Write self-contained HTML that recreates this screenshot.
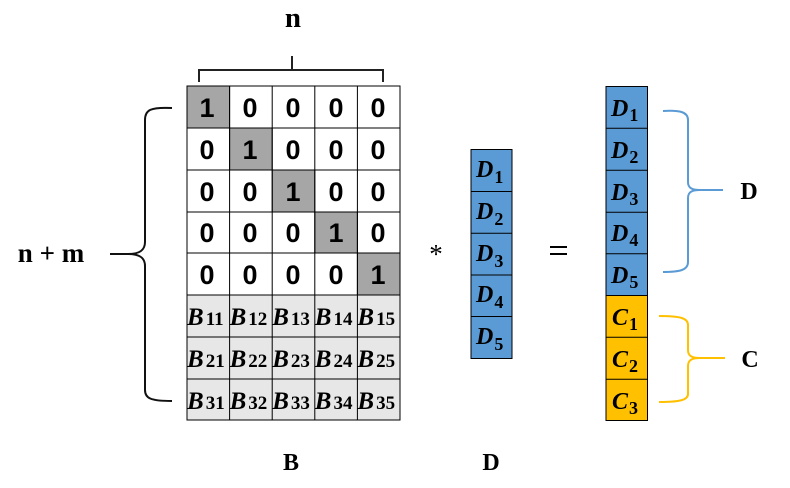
<!DOCTYPE html>
<html><head><meta charset="utf-8"><style>
html,body{margin:0;padding:0;background:#fff;}
svg{display:block;}
.s{font-family:"Liberation Serif",serif;font-weight:bold;}
.n{font-family:"Liberation Sans",sans-serif;font-weight:bold;font-size:27px;}
</style></head><body>
<svg width="790" height="488" viewBox="0 0 790 488" xmlns="http://www.w3.org/2000/svg">
<!-- top bracket -->
<g stroke="#222" stroke-width="2" fill="none">
<path d="M199,82 L199,70 L383,70 L383,82"/>
<path d="M292,56 L292,70"/>
</g>
<text x="293" y="27" class="s" font-size="29" text-anchor="middle">n</text>

<!-- left brace -->
<path d="M172,108 C150,107 145,110 145,120 L145,242 C145,250 140,254 128,254 L110,254 M128,254 C140,254 145,258 145,266 L145,390 C145,398 150,401 172,401" stroke="#111" stroke-width="2" fill="none"/>
<text x="51" y="262" class="s" font-size="27" text-anchor="middle">n + m</text>

<!-- matrix B cells -->
<g stroke="#000" stroke-width="1">
<rect x="187" y="86" width="213" height="167" fill="#fff"/>
<rect x="187" y="253" width="213" height="167" fill="#fff"/>
<rect x="187" y="295" width="213" height="125" fill="#e7e7e7"/>
<rect x="187" y="86" width="42.6" height="42" fill="#a6a6a6"/>
<rect x="229.6" y="128" width="42.6" height="42" fill="#a6a6a6"/>
<rect x="272.2" y="170" width="42.6" height="42" fill="#a6a6a6"/>
<rect x="314.8" y="212" width="42.6" height="41" fill="#a6a6a6"/>
<rect x="357.4" y="253" width="42.6" height="42" fill="#a6a6a6"/>
<path d="M229.6,86 V420 M272.2,86 V420 M314.8,86 V420 M357.4,86 V420 M187,128 H400 M187,170 H400 M187,212 H400 M187,253 H400 M187,295 H400 M187,337 H400 M187,379 H400" fill="none"/>
</g>
<g class="n" text-anchor="middle">
<text x="207" y="117">1</text><text x="250" y="117">0</text><text x="293" y="117">0</text><text x="336" y="117">0</text><text x="378" y="117">0</text>
<text x="207" y="159">0</text><text x="250" y="159">1</text><text x="293" y="159">0</text><text x="336" y="159">0</text><text x="378" y="159">0</text>
<text x="207" y="201">0</text><text x="250" y="201">0</text><text x="293" y="201">1</text><text x="336" y="201">0</text><text x="378" y="201">0</text>
<text x="207" y="242">0</text><text x="250" y="242">0</text><text x="293" y="242">0</text><text x="336" y="242">1</text><text x="378" y="242">0</text>
<text x="207" y="284">0</text><text x="250" y="284">0</text><text x="293" y="284">0</text><text x="336" y="284">0</text><text x="378" y="284">1</text>
</g>
<g class="s" font-size="25" font-style="italic">
<text x="187" y="325">B<tspan font-size="19" font-style="normal" dx="2">11</tspan></text>
<text x="229.6" y="325">B<tspan font-size="19" font-style="normal" dx="2">12</tspan></text>
<text x="272.2" y="325">B<tspan font-size="19" font-style="normal" dx="2">13</tspan></text>
<text x="314.8" y="325">B<tspan font-size="19" font-style="normal" dx="2">14</tspan></text>
<text x="357.4" y="325">B<tspan font-size="19" font-style="normal" dx="2">15</tspan></text>
<text x="187" y="367">B<tspan font-size="19" font-style="normal" dx="2">21</tspan></text>
<text x="229.6" y="367">B<tspan font-size="19" font-style="normal" dx="2">22</tspan></text>
<text x="272.2" y="367">B<tspan font-size="19" font-style="normal" dx="2">23</tspan></text>
<text x="314.8" y="367">B<tspan font-size="19" font-style="normal" dx="2">24</tspan></text>
<text x="357.4" y="367">B<tspan font-size="19" font-style="normal" dx="2">25</tspan></text>
<text x="187" y="409">B<tspan font-size="19" font-style="normal" dx="2">31</tspan></text>
<text x="229.6" y="409">B<tspan font-size="19" font-style="normal" dx="2">32</tspan></text>
<text x="272.2" y="409">B<tspan font-size="19" font-style="normal" dx="2">33</tspan></text>
<text x="314.8" y="409">B<tspan font-size="19" font-style="normal" dx="2">34</tspan></text>
<text x="357.4" y="409">B<tspan font-size="19" font-style="normal" dx="2">35</tspan></text>
</g>

<!-- asterisk -->
<text x="436" y="263" font-family="Liberation Serif, serif" font-size="27" text-anchor="middle">*</text>

<!-- D vector -->
<g stroke="#000" stroke-width="1" fill="#5b9bd5">
<rect x="471" y="149.5" width="41" height="209"/>
<path d="M471,191.5 H512 M471,233.3 H512 M471,275 H512 M471,316.5 H512" fill="none"/>
</g>
<g class="s" font-size="24" font-style="italic">
<text x="476" y="177">D<tspan font-size="18" font-style="normal" dx="1" dy="6">1</tspan></text>
<text x="476" y="219">D<tspan font-size="18" font-style="normal" dx="1" dy="6">2</tspan></text>
<text x="476" y="261">D<tspan font-size="18" font-style="normal" dx="1" dy="6">3</tspan></text>
<text x="476" y="302">D<tspan font-size="18" font-style="normal" dx="1" dy="6">4</tspan></text>
<text x="476" y="344">D<tspan font-size="18" font-style="normal" dx="1" dy="6">5</tspan></text>
</g>

<!-- equals -->
<g stroke="#000" stroke-width="2">
<path d="M550,247 H567 M550,254 H567"/>
</g>

<!-- result vector -->
<g stroke="#000" stroke-width="1">
<rect x="606" y="86.5" width="41.5" height="209" fill="#5b9bd5"/>
<rect x="606" y="295.5" width="41.5" height="125" fill="#ffc000"/>
<path d="M606,128.3 H647.5 M606,170.3 H647.5 M606,212.3 H647.5 M606,253.8 H647.5 M606,337.3 H647.5 M606,379.3 H647.5" fill="none"/>
</g>
<g class="s" font-size="24" font-style="italic">
<text x="611" y="116">D<tspan font-size="18" font-style="normal" dx="1" dy="5">1</tspan></text>
<text x="611" y="158">D<tspan font-size="18" font-style="normal" dx="1" dy="5">2</tspan></text>
<text x="611" y="200">D<tspan font-size="18" font-style="normal" dx="1" dy="5">3</tspan></text>
<text x="611" y="241">D<tspan font-size="18" font-style="normal" dx="1" dy="5">4</tspan></text>
<text x="611" y="283">D<tspan font-size="18" font-style="normal" dx="1" dy="5">5</tspan></text>
<text x="612" y="325">C<tspan font-size="18" font-style="normal" dx="1" dy="5">1</tspan></text>
<text x="612" y="367">C<tspan font-size="18" font-style="normal" dx="1" dy="5">2</tspan></text>
<text x="612" y="409">C<tspan font-size="18" font-style="normal" dx="1" dy="5">3</tspan></text>
</g>

<!-- blue brace -->
<path d="M663,111 C680,110 688,112 688,120 L688,182 C688,188 692,190 700,190 L723,190 M700,190 C692,190 688,192 688,198 L688,262 C688,270 680,272 663,272" stroke="#5b9bd5" stroke-width="2" fill="none"/>
<text x="749" y="199" class="s" font-size="24" text-anchor="middle">D</text>

<!-- orange brace -->
<path d="M659,316 C680,316 688,318 688,325 L688,350 C688,356 692,358 700,358 L725,358 M700,358 C692,358 688,360 688,366 L688,394 C688,400 680,402 659,402" stroke="#ffc000" stroke-width="2" fill="none"/>
<text x="750" y="367" class="s" font-size="24" text-anchor="middle">C</text>

<!-- bottom labels -->
<text x="291" y="470" class="s" font-size="24" text-anchor="middle">B</text>
<text x="491" y="470" class="s" font-size="24" text-anchor="middle">D</text>
</svg>
</body></html>
